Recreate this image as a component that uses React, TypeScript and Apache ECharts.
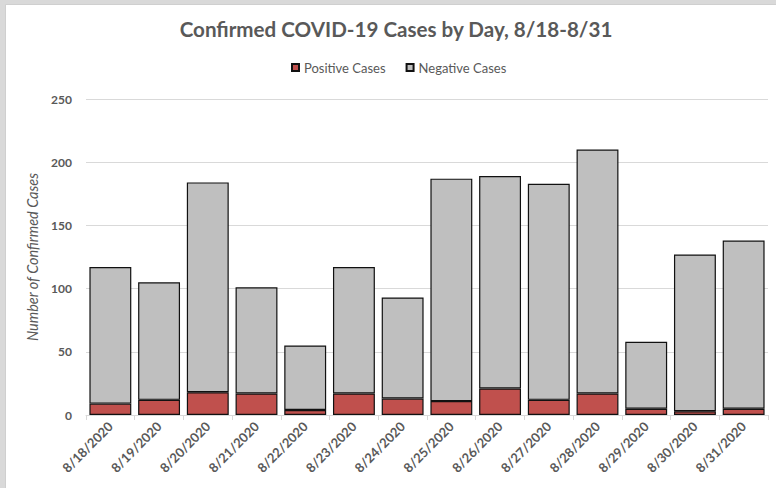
import React, { useEffect, useRef } from 'react';
import * as echarts from 'echarts';

const dates = [
  '8/18/2020', '8/19/2020', '8/20/2020', '8/21/2020', '8/22/2020', '8/23/2020', '8/24/2020',
  '8/25/2020', '8/26/2020', '8/27/2020', '8/28/2020', '8/29/2020', '8/30/2020', '8/31/2020',
];
const positiveCases = [9, 12, 18, 17, 4, 17, 13, 11, 21, 12, 17, 5, 3, 5];
const negativeCases = [108, 93, 166, 84, 51, 100, 80, 176, 168, 171, 193, 53, 124, 133];
const yMin = 0;
const yMax = 250;
const yStep = 50;

const FONT = 'Lato, "Noto Sans", sans-serif';
const TEXT = '#595959';

export default function App() {
  const ref = useRef<HTMLDivElement>(null);
  useEffect(() => {
    const chart = echarts.init(ref.current!, null, { renderer: 'svg' });
    chart.setOption({
      animation: false,
      backgroundColor: '#d9d9d9',
      textStyle: { fontFamily: FONT },
      graphic: [
        {
          type: 'rect',
          z: -10,
          shape: { x: 5.5, y: 4.5, width: 772, height: 486 },
          style: { fill: '#ffffff', stroke: '#cfcfcf', lineWidth: 1 },
        },
        {
          type: 'text',
          x: 396,
          y: 29,
          style: {
            text: 'Confirmed COVID-19 Cases by Day, 8/18-8/31',
            textAlign: 'center',
            textVerticalAlign: 'middle',
            fontFamily: FONT,
            fontWeight: 'bold',
            fontSize: 20.6,
            fill: TEXT,
          },
        },
      ],
      legend: {
        left: 286,
        top: 56,
        itemWidth: 7,
        itemHeight: 7,
        itemGap: 20,
        icon: 'rect',
        textStyle: { color: TEXT, fontSize: 13, fontFamily: FONT },
        data: ['Positive Cases', 'Negative Cases'],
      },
      grid: { left: 86, right: 8, top: 99, bottom: 73, containLabel: false },
      xAxis: {
        type: 'category',
        data: dates,
        axisLine: { lineStyle: { color: '#d9d9d9', width: 1 } },
        axisTick: { show: true, length: 5, lineStyle: { color: '#d9d9d9' } },
        axisLabel: {
          rotate: 45,
          interval: 0,
          margin: 9,
          color: TEXT,
          fontSize: 13,
          fontWeight: 'bold',
          fontFamily: FONT,
        },
      },
      yAxis: {
        type: 'value',
        min: yMin,
        max: yMax,
        interval: yStep,
        name: 'Number of Confirmed Cases',
        nameLocation: 'middle',
        nameGap: 42,
        nameTextStyle: { color: TEXT, fontSize: 14.5, fontStyle: 'italic', fontFamily: FONT },
        axisLine: { show: false },
        axisTick: { show: false },
        axisLabel: { color: TEXT, fontSize: 12, fontWeight: 'bold', margin: 14, fontFamily: FONT },
        splitLine: { lineStyle: { color: '#d9d9d9', width: 1 } },
      },
      series: [
        {
          name: 'Positive Cases',
          type: 'bar',
          stack: 'total',
          barCategoryGap: '14%',
          data: positiveCases,
          itemStyle: { color: '#c0504d', borderColor: '#111111', borderWidth: 1.2 },
        },
        {
          name: 'Negative Cases',
          type: 'bar',
          stack: 'total',
          barCategoryGap: '14%',
          data: negativeCases,
          itemStyle: { color: '#bfbfbf', borderColor: '#111111', borderWidth: 1.2 },
        },
      ],
    });
    return () => chart.dispose();
  }, []);
  return <div ref={ref} style={{ position: 'absolute', left: 0, top: 0, width: 776, height: 488 }} />;
}
